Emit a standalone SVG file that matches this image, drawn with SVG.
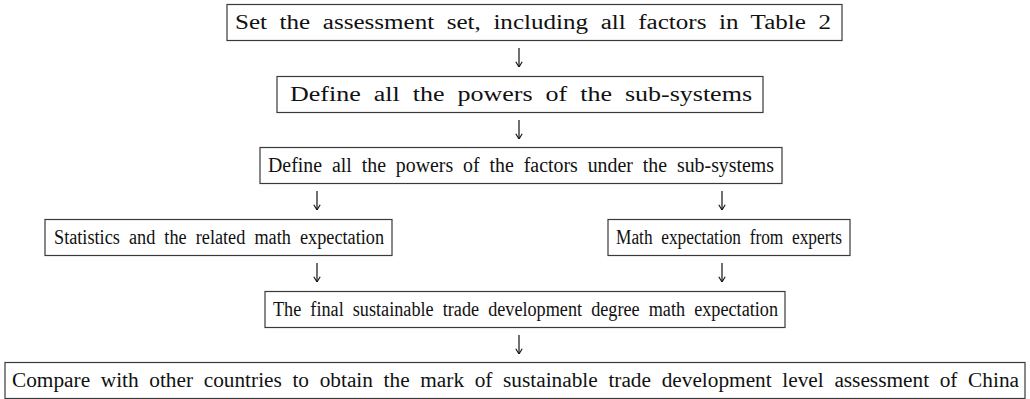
<svg xmlns="http://www.w3.org/2000/svg" width="1030" height="399" viewBox="0 0 1030 399">
<defs>
<style>
.box{fill:#fff;stroke:#3a3a3a;stroke-width:1.2}
.t{font-family:"Liberation Serif","DejaVu Serif",serif;font-size:20px;fill:#111;word-spacing:5px}
.c{stroke:#111;stroke-width:1.2;fill:none}
</style>
<marker id="ah" viewBox="0 0 10 10" refX="9.5" refY="5" markerWidth="8" markerHeight="8" markerUnits="userSpaceOnUse" orient="auto">
<path d="M3,1 L9.5,5 L3,9" fill="none" stroke="#111" stroke-width="1.4"/>
</marker>
</defs>
<rect width="1030" height="399" fill="#fff"/>
<g id="n1"><rect class="box" x="227" y="4.5" width="615" height="36"/><text class="t" x="235" y="29" textLength="596" lengthAdjust="spacingAndGlyphs">Set the assessment set, including all factors in Table 2</text></g>
<g id="n2"><rect class="box" x="277" y="76.5" width="486" height="36"/><text class="t" x="290" y="101" textLength="462" lengthAdjust="spacingAndGlyphs">Define all the powers of the sub-systems</text></g>
<g id="n3"><rect class="box" x="260" y="147.5" width="522" height="36"/><text class="t" x="268" y="172" textLength="506" lengthAdjust="spacingAndGlyphs">Define all the powers of the factors under the sub-systems</text></g>
<g id="n4"><rect class="box" x="45" y="219.5" width="347" height="36"/><text class="t" x="54" y="244" textLength="330" lengthAdjust="spacingAndGlyphs">Statistics and the related math expectation</text></g>
<g id="n5"><rect class="box" x="608" y="219.5" width="242" height="36"/><text class="t" x="616" y="244" textLength="226" lengthAdjust="spacingAndGlyphs">Math expectation from experts</text></g>
<g id="n6"><rect class="box" x="265" y="291.5" width="520" height="36"/><text class="t" x="273" y="316" textLength="505" lengthAdjust="spacingAndGlyphs">The final sustainable trade development degree math expectation</text></g>
<g id="n7"><rect class="box" x="5" y="362.5" width="1020" height="36"/><text class="t" x="12" y="387" textLength="1007" lengthAdjust="spacingAndGlyphs">Compare with other countries to obtain the mark of sustainable trade development level assessment of China</text></g>
<g id="connectors">
<line class="c" x1="519" y1="48" x2="519" y2="67" marker-end="url(#ah)"/>
<line class="c" x1="519" y1="120" x2="519" y2="139" marker-end="url(#ah)"/>
<line class="c" x1="317" y1="191" x2="317" y2="210" marker-end="url(#ah)"/>
<line class="c" x1="722" y1="191" x2="722" y2="210" marker-end="url(#ah)"/>
<line class="c" x1="317" y1="263" x2="317" y2="282" marker-end="url(#ah)"/>
<line class="c" x1="722" y1="263" x2="722" y2="282" marker-end="url(#ah)"/>
<line class="c" x1="519" y1="335" x2="519" y2="354" marker-end="url(#ah)"/>
</g>
</svg>
